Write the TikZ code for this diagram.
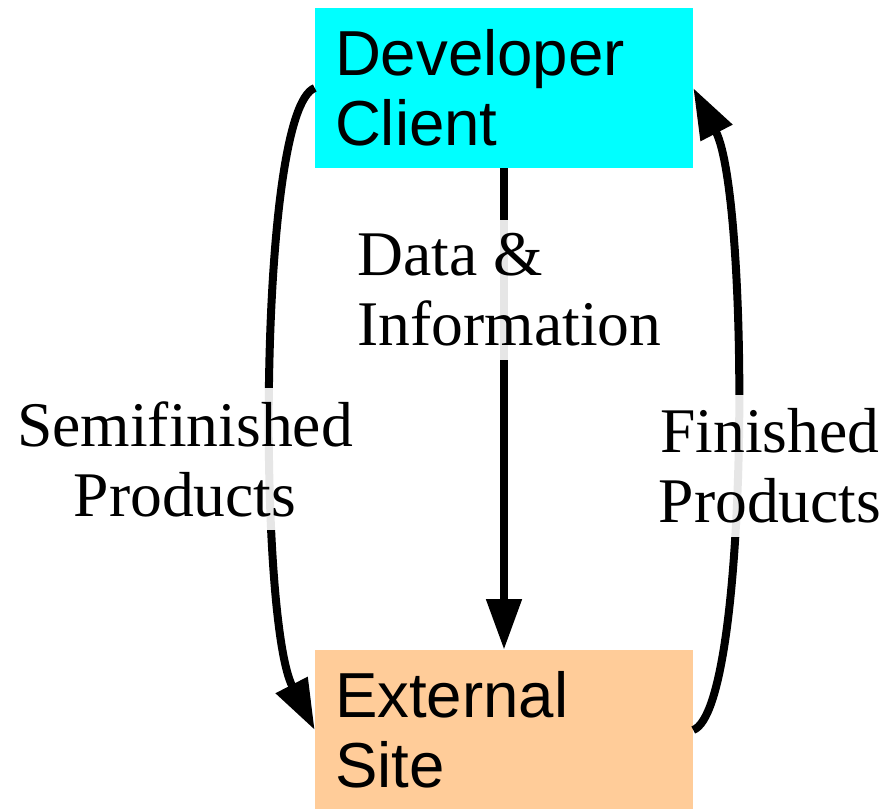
\documentclass[tikz,border=0pt]{standalone}
\usepackage{fontspec}
\setmainfont{Liberation Serif}
\setsansfont{Liberation Sans}
\usepackage{tikz}
\usetikzlibrary{arrows.meta}
\usetikzlibrary{positioning}

\definecolor{devcyan}{HTML}{00FFFF}
\definecolor{extpeach}{HTML}{FFCC99}

\begin{document}
\begin{tikzpicture}
  [x=0.75pt, y=-0.75pt,
  bigfont/.style={font={\fontsize{47.7}{52.5}\selectfont}},
  site/.style={bigfont, font={\sffamily\fontsize{47.7}{52.5}\selectfont},
    minimum width=283.5pt, minimum height=120pt, text width=253.5pt,
    inner xsep=15pt, align=left},
  flow/.style={line width=6pt, -{Triangle[length=38pt, width=25.5pt]}},
  flowlabel/.style={bigfont, fill=white, fill opacity=0.9, text opacity=1,
    inner sep=10pt}]
\useasboundingbox (0,0) rectangle (896,808);
\node [site, fill=devcyan] (dev) at (504,88) {Developer\\Client};
\node [site, fill=extpeach] (ext) at (504,730) {External\\Site};
\draw [flow] (dev.south) -- (ext.north);
\draw [flow] (dev.west) .. controls +(-57,22) and +(-57,-111) .. (ext.west);
\draw [flow] (ext.east) .. controls +(57,-22) and +(57,110) .. (dev.east);
\node [flowlabel, anchor=west, align=left] (data) at (344,290) {Data \&\\Information};
\node [flowlabel, align=center] (semi) at (185,459) {Semifinished\\Products};
\node [flowlabel, align=center] (fin) at (770,466) {Finished\\Products};
\end{tikzpicture}
\end{document}
